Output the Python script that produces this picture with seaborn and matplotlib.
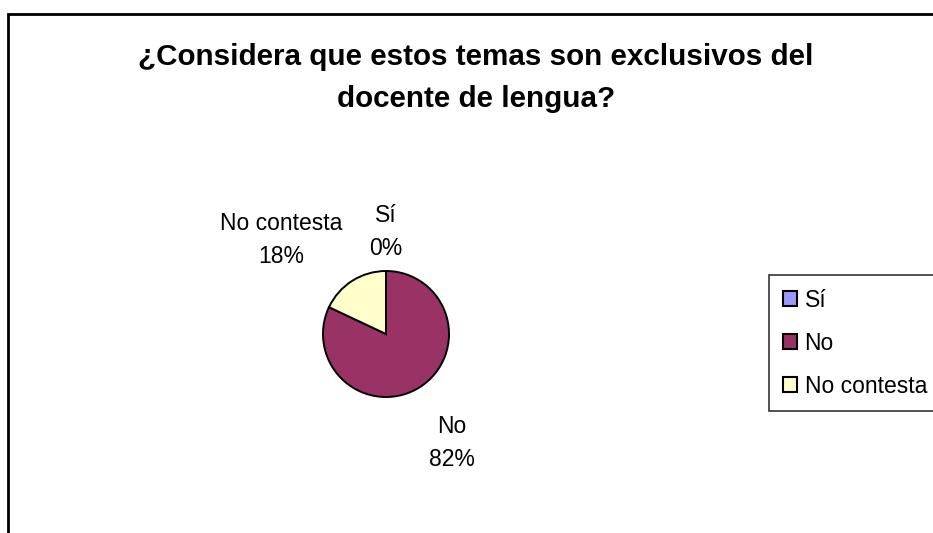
import matplotlib
matplotlib.use("Agg")
import matplotlib.pyplot as plt
from matplotlib.patches import Rectangle
import seaborn as sns

# Survey answers
categories = ["Sí", "No", "No contesta"]
percentages = [0, 82, 18]
colors = ["#9999FF", "#993366", "#FFFFCC"]
title_text = "¿Considera que estos temas son exclusivos del\ndocente de lengua?"

sns.set_theme(style="white")
plt.rcParams["font.family"] = ["Liberation Sans", "DejaVu Sans"]
plt.rcParams["text.color"] = "black"

W, H = 933, 533
fig = plt.figure(figsize=(W / 100, H / 100), dpi=100)
fig.patch.set_facecolor("white")

# Chart-area frame (runs off the right and bottom edges)
fig.patches.append(Rectangle((8 / W, -0.1), 1.1, 1 - 14 / H + 0.1,
                             transform=fig.transFigure, fill=False,
                             edgecolor="black", linewidth=2, zorder=0))

# Pie axes: centre (386, 334) px, radius 63 px
cx, cy, r = 386, 334, 63
ax = fig.add_axes([(cx - r) / W, (H - cy - r) / H, 2 * r / W, 2 * r / H])
wedges, _ = ax.pie(percentages, colors=colors, startangle=90, counterclock=False,
                   radius=1, wedgeprops=dict(edgecolor="black", linewidth=1.4))
ax.set_xlim(-1, 1)
ax.set_ylim(-1, 1)
ax.set_aspect("equal")
ax.axis("off")

# Data labels: category name above the percentage (offsets in pie radii)
label_pos = {"Sí": ((386 - cx) / r, (cy - 232) / r),
             "No": ((452 - cx) / r, (cy - 443) / r),
             "No contesta": ((281 - cx) / r, (cy - 240) / r)}
for cat, val in zip(categories, percentages):
    x, y = label_pos[cat]
    ax.text(x, y, f"{cat}\n{val}%", ha="center", va="center", fontsize=16.5,
            linespacing=1.55, clip_on=False)

fig.text(476 / W, 1 - 78 / H, title_text, ha="center", va="center",
         fontsize=21.3, fontweight="bold", linespacing=1.62)

leg = fig.legend(wedges, categories, loc="upper left",
                 bbox_to_anchor=(769 / W, 1 - 275 / H), fontsize=16.5,
                 frameon=True, fancybox=False, handlelength=0.6,
                 handleheight=0.6, handletextpad=0.35, labelspacing=0.87,
                 borderpad=0.6, borderaxespad=0)
leg.get_frame().set_edgecolor("black")
leg.get_frame().set_linewidth(1.2)
for h in leg.legend_handles:
    h.set_edgecolor("black")
    h.set_linewidth(1.5)

fig.savefig("out.png", dpi=100)
